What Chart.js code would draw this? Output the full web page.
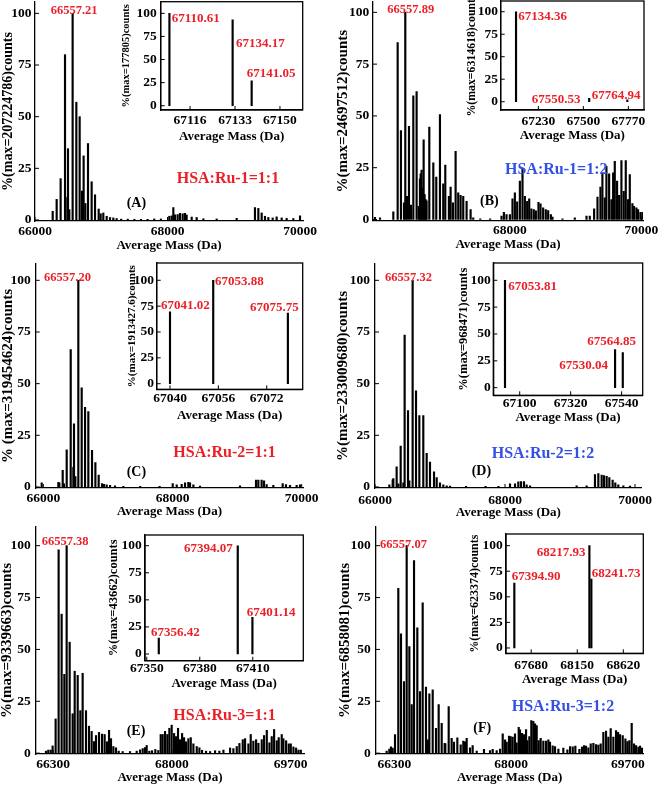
<!DOCTYPE html>
<html>
<head>
<meta charset="UTF-8">
<title>HSA Ru spectra</title>
<script src="https://cdn.jsdelivr.net/npm/chart.js"></script>
<style>
    body { margin: 0; width: 661px; height: 786px; position: relative; overflow: hidden; background: #fff; }
    canvas { position: absolute; }
    .lbl { position: absolute; font-family: 'Liberation Serif', serif; font-weight: bold; white-space: nowrap; line-height: 1; transform: translateY(-50%); }
</style>
</head>
<body>
<script>
    const yTicks = [0, 25, 50, 75, 100];
    const xTitle = 'Average Mass (Da)';

    // (A) HSA:Ru-1 = 1:1
    const massA = [66267, 66327, 66387, 66453, 66488, 66498, 66518, 66568, 66624, 66674,
        66709, 66734, 66760, 66800, 66855, 66906, 66961, 66991, 67031, 67082,
        67132, 67182, 67232, 67300, 67400, 67500, 67600, 67700, 67800, 67900,
        68027, 68063, 68088, 68113, 68153, 68188, 68229, 68264, 68289, 68365,
        68440, 68541, 68742, 69044, 69320, 69371, 69421, 69471, 69522, 69587,
        69647, 69723, 69798, 69899, 70000];
    const countA = [4.2, 10, 20, 80, 11, 34.5, 5, 100, 57, 50,
        14, 31, 8, 37, 18.5, 12.2, 5.3, 3, 3.4, 1.8,
        1.2, 1, 0.7, 0.4, 0.4, 0.3, 0.3, 0.3, 0.5, 0.5,
        1.8, 2, 6, 2.5, 2.6, 3.2, 3, 3.2, 2.4, 1.4,
        1.2, 0.6, 0.5, 0.8, 6, 5.6, 3.4, 1.8, 1.2, 1,
        1.5, 1, 0.8, 0.7, 2];
    const ticksA = [66000, 68000, 70000];
    const insetMassA = [67108.2, 67132.1, 67139.3];
    const insetCountA = [100, 93, 27];
    const insetTicksA = [67116, 67133, 67150];
    const titleA = '%(max=207224786)counts';
    const insetTitleA = '%(max=177805)counts';
    const peaksA = ['66557.21', '67110.61', '67134.17', '67141.05'];

    // (B) HSA:Ru-1 = 1:2
    const massB = [65949, 66025, 66228, 66294, 66344, 66390, 66410, 66436, 66466, 66496,
        66532, 66582, 66613, 66633, 66643, 66658, 66673, 66689, 66704, 66719,
        66734, 66775, 66836, 66881, 66937, 66987, 67018, 67073, 67099, 67134,
        67175, 67215, 67251, 67291, 67342, 67403, 67443, 67550, 67700, 67873,
        67909, 67949, 68000, 68040, 68076, 68111, 68152, 68192, 68228, 68263,
        68294, 68327, 68364, 68395, 68435, 68466, 68506, 68546, 68582, 68623,
        68648, 68800, 68987, 69165, 69215, 69281, 69332, 69377, 69407, 69443,
        69468, 69509, 69544, 69570, 69595, 69630, 69661, 69696, 69731, 69762,
        69797, 69823, 69863, 69888, 69924, 69949, 69985, 70015];
    const countB = [1, 0.8, 3.7, 85.4, 42.9, 8, 100, 11.2, 45, 7,
        59.7, 61.8, 6.4, 19.6, 22, 23.8, 15, 38.5, 12, 9.6,
        9, 44.6, 27.3, 20.5, 50.6, 17.2, 26.2, 11.2, 15.6, 8,
        32.9, 12.8, 11.6, 11.2, 8.8, 4.8, 0.8, 0.3, 0.3, 1.6,
        3.5, 2.4, 2.4, 10, 12.8, 8.5, 18.5, 24.4, 11.2, 8.8,
        10, 5.1, 4.8, 4.2, 8.3, 7.5, 5.6, 4.8, 4.3, 2.4,
        1.2, 0.3, 0.8, 1.6, 1.6, 5.1, 10.8, 15.6, 22.5, 10.4,
        25.7, 22, 9.6, 22.5, 28.1, 18.5, 11.6, 28.4, 13.6, 28.4,
        9.6, 21.7, 7.7, 6.4, 5.6, 4.8, 3.5, 3.5];
    const ticksB = [68000, 70000];
    const insetMassB = [67096, 67535, 67764];
    const insetCountB = [100, 3.7, 2];
    const insetTicksB = [67230, 67500, 67770];
    const titleB = '%(max=24697512)counts';
    const insetTitleB = '%(max=6314618)counts';
    const peaksB = ['66557.89', '67134.36', '67550.53', '67764.94'];

    // (C) HSA:Ru-2 = 1:1
    const massC = [65975, 66233, 66248, 66300, 66320, 66362, 66424, 66465, 66475, 66496,
        66542, 66594, 66646, 66697, 66754, 66806, 66857, 66909, 66940, 66981,
        67033, 67110, 67239, 67500, 67800, 68003, 68065, 68142, 68194, 68245,
        68271, 68323, 68426, 69045, 69293, 69329, 69380, 69417, 69458, 69561,
        69706, 69757, 69819, 69922, 69974];
    const countC = [2, 2.2, 2, 8, 1.5, 18, 66.5, 9.5, 30.5, 5,
        100, 48, 38.5, 36.5, 17.7, 11.8, 5.8, 1.6, 1.3, 1,
        0.8, 0.5, 0.3, 0.3, 0.3, 1.6, 1, 1.3, 2, 2.2,
        2, 1, 0.4, 0.5, 3.3, 3.3, 3.3, 3, 1.2, 0.8,
        1.6, 1.2, 0.8, 0.8, 1];
    const ticksC = [66000, 68000, 70000];
    const insetMassC = [67040, 67054.3, 67079];
    const insetCountC = [69.4, 100, 68.4];
    const insetTicksC = [67040, 67056, 67072];
    const titleC = '% (max=319454624)counts';
    const insetTitleC = '%(max=1913427.6)counts';
    const peaksC = ['66557.20', '67041.02', '67053.88', '67075.75'];

    // (D) HSA:Ru-2 = 1:2
    const massD = [66221, 66272, 66282, 66333, 66359, 66395, 66436, 66456, 66508, 66528,
        66579, 66631, 66682, 66743, 66795, 66846, 66908, 66949, 67000, 67051,
        67103, 67154, 67400, 67700, 67900, 68077, 68154, 68205, 68246, 68292,
        68333, 68385, 69102, 69256, 69384, 69436, 69487, 69523, 69564, 69605,
        69656, 69697, 69743, 69820, 69923];
    const countD = [1, 3.5, 4, 9.8, 1.5, 19.8, 2, 73.5, 37, 3,
        100, 46.5, 34.5, 34.5, 16.3, 12, 7.3, 4.5, 2, 1,
        0.6, 0.4, 0.3, 0.3, 0.3, 1.5, 1.5, 2.5, 2.6, 2.6,
        1, 0.5, 0.6, 0.5, 6, 6.5, 5.8, 5.5, 5.2, 4.5,
        3.3, 2, 1, 0.5, 0.4];
    const ticksD = [66000, 68000, 70000];
    const insetMassD = [67036.5, 67511.7, 67545];
    const insetCountD = [100, 35.4, 32.6];
    const insetTicksD = [67100, 67320, 67540];
    const titleD = '%(max=233009680)counts';
    const insetTitleD = '%(max=968471)counts';
    const peaksD = ['66557.32', '67053.81', '67564.85', '67530.04'];

    // (E) HSA:Ru-3 = 1:1
    const massE = [66197, 66230, 66264, 66292, 66335, 66378, 66421, 66460, 66493, 66536,
        66579, 66608, 66651, 66689, 66722, 66770, 66813, 66851, 66885, 66913,
        66956, 66999, 67037, 67071, 67100, 67128, 67162, 67200, 67238, 67295,
        67400, 67496, 67544, 67582, 67615, 67639, 67677, 67716, 67763, 67806,
        67840, 67868, 67902, 67935, 67964, 67997, 68031, 68059, 68088, 68117,
        68146, 68174, 68203, 68236, 68270, 68308, 68356, 68394, 68432, 68489,
        68547, 68618, 68680, 68738, 68833, 68881, 68929, 68967, 69015, 69048,
        69096, 69129, 69167, 69206, 69239, 69287, 69320, 69359, 69397, 69430,
        69464, 69502, 69530, 69573, 69597, 69636, 69674, 69703, 69741, 69779,
        69813, 69846];
    const countE = [1, 1.5, 1.5, 3.5, 16.5, 98, 67, 38, 100, 53.5,
        19, 39.5, 37.5, 20.5, 38.5, 20.5, 13, 10.5, 5.6, 8.5,
        10, 9.2, 9, 5.5, 11, 7, 3.2, 2.6, 1, 0.8,
        0.8, 1, 1.6, 2.2, 2.7, 3.7, 1, 1.2, 1.8, 1.3,
        9, 9, 10.5, 9, 12, 13.5, 9.5, 8, 12, 6.5,
        9.5, 7.5, 5.5, 7, 7.5, 4.5, 3.2, 2.6, 1.4, 1,
        0.8, 1.2, 1, 1.5, 2.5, 2.2, 3.2, 4.7, 6.5, 7,
        4.5, 9, 5.8, 6.5, 4.8, 6.5, 8.5, 11, 5, 8,
        11.4, 6, 7.5, 9, 7, 6, 4.5, 4.5, 3, 2.5,
        1.5, 1.5];
    const ticksE = [66300, 68000, 69700];
    const insetMassE = [67356.8, 67401.5, 67409.8];
    const insetCountE = [14.8, 100, 33.8];
    const insetTicksE = [67350, 67380, 67410];
    const titleE = '%(max=9339663)counts';
    const insetTitleE = '%(max=43662)counts';
    const peaksE = ['66557.38', '67394.07', '67401.14', '67356.42'];

    // (F) HSA:Ru-3 = 1:2
    const massF = [66187, 66226, 66250, 66275, 66309, 66357, 66396, 66440, 66479, 66518,
        66552, 66586, 66634, 66673, 66712, 66760, 66790, 66809, 66858, 66906,
        66945, 66989, 67032, 67042, 67091, 67134, 67168, 67217, 67266, 67304,
        67329, 67353, 67402, 67440, 67499, 67605, 67693, 67732, 67790, 67839,
        67878, 67912, 67936, 67970, 67994, 68023, 68057, 68081, 68111, 68130,
        68159, 68188, 68218, 68237, 68266, 68295, 68324, 68349, 68373, 68402,
        68431, 68470, 68509, 68543, 68567, 68606, 68640, 68689, 68761, 68820,
        68859, 68898, 68936, 68995, 69033, 69063, 69092, 69126, 69160, 69199,
        69238, 69271, 69305, 69344, 69383, 69417, 69451, 69490, 69529, 69558,
        69587, 69626, 69665, 69694, 69723, 69757, 69791, 69820, 69854, 69879,
        69908];
    const countF = [1, 2, 3, 2.5, 9, 79.5, 57.5, 34.5, 100, 51.4,
        23.4, 92.8, 60.4, 29.7, 72.4, 31.8, 6.4, 28.6, 30.5, 12,
        23.4, 14.4, 4.8, 4.5, 22.5, 7.2, 5.3, 7.4, 4, 5.8,
        5.5, 7.2, 2.6, 3.7, 1, 1.9, 1.3, 1.9, 1.3, 2,
        9.3, 6.4, 5.3, 8.2, 8, 7.7, 9.3, 5, 12.5, 11.2,
        9.6, 9, 11.4, 6.1, 8, 15.7, 15.4, 14.1, 13.3, 6.1,
        7.2, 5.8, 5.8, 6.4, 5.3, 3.5, 3.2, 2, 2.4, 1.6,
        3.2, 3, 3.4, 1.9, 2.9, 3.7, 3.4, 2.6, 4.5, 4.8,
        4.2, 3.9, 4.5, 10.1, 10.6, 7.7, 11.9, 7.7, 10.9, 10.1,
        9, 8.5, 6.9, 5.6, 6.1, 14.4, 4.5, 3.7, 2.9, 3.4,
        2.4];
    const ticksF = [66300, 68000, 69700];
    const insetMassF = [67508, 68274, 68294];
    const insetCountF = [63.5, 100, 67.4];
    const insetTicksF = [67680, 68150, 68620];
    const titleF = '%(max=6858081)counts';
    const insetTitleF = '%(max=623374)counts';
    const peaksF = ['66557.07', '67394.90', '68217.93', '68241.73'];

    const ratios = ['HSA:Ru-1=1:1', 'HSA:Ru-1=1:2', 'HSA:Ru-2=1:1', 'HSA:Ru-2=1:2', 'HSA:Ru-3=1:1', 'HSA:Ru-3=1:2'];
    const panelTags = ['(A)', '(B)', '(C)', '(D)', '(E)', '(F)'];

    const FAMILY = "'Liberation Serif', serif";
    const RED = '#ec1f27';
    const BLUE = '#3350e6';
    const TICK_SIZE = 13.5, TITLE_SIZE = 13;

    // white box for insets, frame, inward tick marks
    const framePlugin = {
        id: 'frame',
        beforeDraw(chart, args, opts) {
            if (!opts.boxed) return;
            const a = chart.chartArea, ctx = chart.ctx;
            ctx.save();
            ctx.fillStyle = '#fff';
            ctx.fillRect(a.left, a.top, a.right - a.left, a.bottom - a.top);
            ctx.restore();
        },
        afterDraw(chart, args, opts) {
            const a = chart.chartArea, ctx = chart.ctx;
            const xs = chart.scales.x, ys = chart.scales.y;
            ctx.save();
            ctx.strokeStyle = '#000';
            ctx.lineWidth = 1;
            ctx.beginPath();
            xs.ticks.forEach(t => {
                const px = xs.getPixelForValue(t.value);
                ctx.moveTo(px, a.bottom); ctx.lineTo(px, a.bottom - 4);
            });
            ys.ticks.forEach(t => {
                const py = ys.getPixelForValue(t.value);
                ctx.moveTo(a.left, py); ctx.lineTo(a.left + 4, py);
            });
            ctx.stroke();
            if (opts.boxed) {
                ctx.lineWidth = 1.3;
                ctx.strokeRect(a.left, a.top, a.right - a.left, a.bottom - a.top);
            }
            ctx.restore();
        }
    };

    function makeChart(g, masses, counts, xTicks, yTitle, boxed) {
        const tickLh = TICK_SIZE * 1.2, titleLh = TITLE_SIZE * 1.2, ytLh = g.yts * 1.2;
        const padTop = 16, padRight = 28;
        const left = Math.round(g.yTitleX - ytLh / 2 - 1);
        const top = Math.round(g.T - padTop);
        const bottom = Math.round(g.xTitleY + titleLh / 2 + 1);
        const width = Math.round(g.R + padRight - left);
        const height = bottom - top;
        const yW = g.L - left, xH = bottom - g.B;

        const cv = document.createElement('canvas');
        cv.width = width; cv.height = height;
        cv.style.left = left + 'px'; cv.style.top = top + 'px';
        cv.style.width = width + 'px'; cv.style.height = height + 'px';
        document.body.appendChild(cv);

        const tickFont = {family: FAMILY, size: TICK_SIZE, weight: 'bold', lineHeight: 1.2};
        const titleFont = {family: FAMILY, size: TITLE_SIZE, weight: 'bold', lineHeight: 1.2};
        const yTitleFont = {family: FAMILY, size: g.yts, weight: 'bold', lineHeight: 1.2};

        return new Chart(cv.getContext('2d'), {
            type: 'bar',
            data: {
                datasets: [{
                    data: masses.map((m, i) => ({x: m, y: counts[i]})),
                    backgroundColor: '#000',
                    barThickness: 1.5
                }]
            },
            options: {
                responsive: false,
                animation: false,
                events: [],
                layout: {padding: {left: 0, top: g.T - top, right: width - (g.R - left), bottom: 0}},
                plugins: {legend: {display: false}, tooltip: {enabled: false}, frame: {boxed: boxed}},
                scales: {
                    x: {
                        type: 'linear', min: g.xMin, max: g.xMax, offset: false,
                        grid: {display: false, drawTicks: false},
                        border: {display: true, color: '#000', width: 1.3},
                        afterBuildTicks: s => { s.ticks = xTicks.map(v => ({value: v})); },
                        afterFit: s => { s.height = xH; },
                        ticks: {
                            padding: g.xTickY - g.B - tickLh / 2, color: '#000', font: tickFont,
                            maxRotation: 0, autoSkip: false, callback: v => String(v)
                        },
                        title: {display: true, text: xTitle, color: '#000', font: titleFont, padding: {top: 0, bottom: 1}}
                    },
                    y: {
                        min: g.yMin, max: g.yMax,
                        grid: {display: false, drawTicks: false},
                        border: {display: true, color: '#000', width: 1.3},
                        afterBuildTicks: s => { s.ticks = yTicks.map(v => ({value: v})); },
                        afterFit: s => { s.width = yW; },
                        ticks: {padding: g.L - g.yTickRight, color: '#000', font: tickFont, callback: v => String(v)},
                        title: {
                            display: true, text: yTitle, color: '#000', font: yTitleFont,
                            padding: {top: g.yTitleX - left - ytLh / 2, bottom: 0}
                        }
                    }
                }
            },
            plugins: [framePlugin]
        });
    }

    function addText(text, x, y, color, size) {
        const d = document.createElement('div');
        d.className = 'lbl';
        d.textContent = text;
        d.style.left = x + 'px';
        d.style.top = y + 'px';
        d.style.color = color;
        d.style.fontSize = size + 'px';
        document.body.appendChild(d);
    }

    // main spectra
    makeChart({L: 35, T: 2, R: 303, B: 221, xMin: 66000, xMax: 70045, yMin: -0.5, yMax: 105.5,
        yTitleX: 8.3, yTickRight: 31.5, xTickY: 232, xTitleY: 245, yts: 14}, massA, countA, ticksA, titleA, false);
    makeChart({L: 373, T: 2, R: 643, B: 220.5, xMin: 65919, xMax: 70024, yMin: -0.5, yMax: 105,
        yTitleX: 343.3, yTickRight: 369.3, xTickY: 231, xTitleY: 244.5, yts: 15}, massB, countB, ticksB, titleB, false);
    makeChart({L: 35.7, T: 264, R: 303.3, B: 488, xMin: 65882, xMax: 70025, yMin: -0.5, yMax: 107.9,
        yTitleX: 8.3, yTickRight: 30.7, xTickY: 498.7, xTitleY: 511, yts: 15}, massC, countC, ticksC, titleC, false);
    makeChart({L: 375, T: 264, R: 641.7, B: 488, xMin: 66000, xMax: 70103, yMin: -0.5, yMax: 107.9,
        yTitleX: 343.3, yTickRight: 370, xTickY: 500.3, xTitleY: 512, yts: 15}, massD, countD, ticksD, titleD, false);
    makeChart({L: 36, T: 527, R: 304, B: 754, xMin: 66054, xMax: 69892, yMin: -0.4, yMax: 109,
        yTitleX: 7.3, yTickRight: 30.7, xTickY: 764.7, xTitleY: 777.3, yts: 15}, massE, countE, ticksE, titleE, false);
    makeChart({L: 376, T: 527, R: 643.3, B: 754, xMin: 66032, xMax: 69926, yMin: -0.4, yMax: 109,
        yTitleX: 345, yTickRight: 370.7, xTickY: 764.7, xTitleY: 777.5, yts: 15}, massF, countF, ticksF, titleF, false);

    // insets
    makeChart({L: 160.7, T: 1.7, R: 302.7, B: 110, xMin: 67104.9, xMax: 67158.6, yMin: -4.65, yMax: 112.6,
        yTitleX: 126.7, yTickRight: 156.7, xTickY: 120.7, xTitleY: 136, yts: 10.5}, insetMassA, insetCountA, insetTicksA, insetTitleA, true);
    makeChart({L: 500.7, T: 1, R: 644, B: 110, xMin: 67004, xMax: 67864, yMin: -9.2, yMax: 111.9,
        yTitleX: 471.7, yTickRight: 498, xTickY: 121.7, xTitleY: 135, yts: 11.8}, insetMassB, insetCountB, insetTicksB, insetTitleB, true);
    makeChart({L: 156.7, T: 263, R: 302.7, B: 389.3, xMin: 67035.6, xMax: 67083.9, yMin: -5.4, yMax: 116.7,
        yTitleX: 131.7, yTickRight: 154, xTickY: 398.7, xTitleY: 415.3, yts: 11}, insetMassC, insetCountC, insetTicksC, insetTitleC, true);
    makeChart({L: 493.3, T: 263, R: 642.7, B: 395.3, xMin: 66986, xMax: 67631, yMin: -7.1, yMax: 116.1,
        yTitleX: 463.3, yTickRight: 490.7, xTickY: 403.7, xTitleY: 417, yts: 12.5}, insetMassD, insetCountD, insetTicksD, insetTitleD, true);
    makeChart({L: 145, T: 535, R: 303.3, B: 660.7, xMin: 67349, xMax: 67438.6, yMin: -6.2, yMax: 109.9,
        yTitleX: 113.3, yTickRight: 141.7, xTickY: 669, xTitleY: 683.3, yts: 12.5}, insetMassE, insetCountE, insetTicksE, insetTitleE, true);
    makeChart({L: 506, T: 534, R: 643.3, B: 653.3, xMin: 67423, xMax: 68824, yMin: -5.2, yMax: 111.4,
        yTitleX: 475, yTickRight: 502.7, xTickY: 665.7, xTitleY: 679, yts: 12}, insetMassF, insetCountF, insetTicksF, insetTitleF, true);

    // peak annotations, ratio and panel tags
    addText(peaksA[0], 50.7, 10, RED, 12.5);
    addText(peaksA[1], 171.7, 16.7, RED, 13);
    addText(peaksA[2], 236, 41.7, RED, 13);
    addText(peaksA[3], 246.7, 72.3, RED, 13);
    addText(ratios[0], 176.7, 177.7, RED, 16);
    addText(panelTags[0], 126.7, 202.7, '#000', 14);

    addText(peaksB[0], 387.3, 9, RED, 12.5);
    addText(peaksB[1], 518.3, 15, RED, 13);
    addText(peaksB[2], 531.7, 97.7, RED, 13);
    addText(peaksB[3], 591.7, 94.3, RED, 13);
    addText(ratios[1], 505, 169.3, BLUE, 16);
    addText(panelTags[1], 480, 201, '#000', 14);

    addText(peaksC[0], 44, 277, RED, 12.5);
    addText(peaksC[1], 161, 304.3, RED, 13);
    addText(peaksC[2], 215, 279.7, RED, 13);
    addText(peaksC[3], 250, 306.3, RED, 13);
    addText(ratios[2], 173.3, 452, RED, 16);
    addText(panelTags[2], 126.7, 472, '#000', 14);

    addText(peaksD[0], 385, 277, RED, 12.5);
    addText(peaksD[1], 508.3, 285.3, RED, 13);
    addText(peaksD[2], 587.3, 339.7, RED, 13);
    addText(peaksD[3], 559.3, 363.7, RED, 13);
    addText(ratios[3], 491.7, 452.7, BLUE, 16);
    addText(panelTags[3], 471.7, 471.3, '#000', 14);

    addText(peaksE[0], 41.7, 541.3, RED, 12.5);
    addText(peaksE[1], 184, 547.3, RED, 13);
    addText(peaksE[2], 246.7, 611.3, RED, 13);
    addText(peaksE[3], 151, 630.7, RED, 13);
    addText(ratios[4], 173.3, 715, RED, 16);
    addText(panelTags[4], 126.7, 731.3, '#000', 14);

    addText(peaksF[0], 380, 544, RED, 12.5);
    addText(peaksF[1], 511.7, 574.7, RED, 13);
    addText(peaksF[2], 536.7, 550.7, RED, 13);
    addText(peaksF[3], 591.7, 571.7, RED, 13);
    addText(ratios[5], 511.7, 705.7, BLUE, 16);
    addText(panelTags[5], 473.3, 728.3, '#000', 14);
</script>
</body>
</html>
